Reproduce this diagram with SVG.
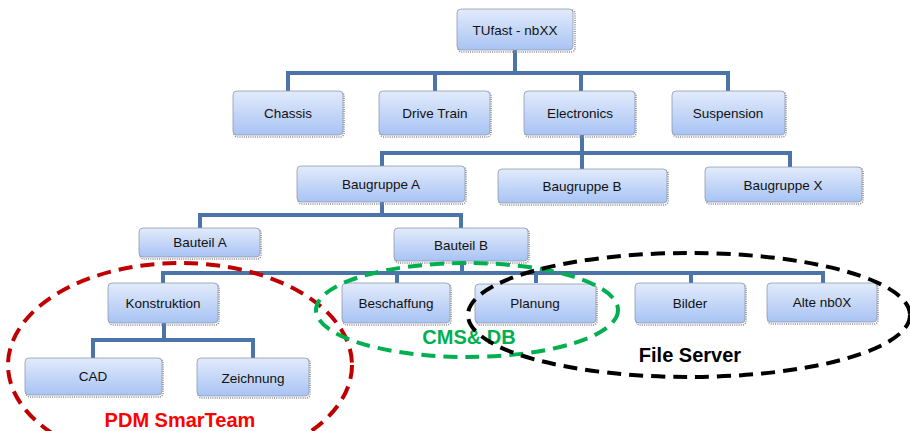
<svg xmlns="http://www.w3.org/2000/svg" width="910" height="431" viewBox="0 0 910 431">
<defs>
<linearGradient id="nodeFill" x1="0" y1="0" x2="0" y2="1">
<stop offset="0" stop-color="#e2ebfb"/>
<stop offset="1" stop-color="#a8c3f4"/>
</linearGradient>
<style>
.box{fill:url(#nodeFill);stroke:#8d9ab0;stroke-width:0.8}
.sh{fill:none;stroke:#8a8a8a;stroke-width:1.6;stroke-dasharray:1 1.2}
.lbl{font-family:"Liberation Sans",Arial,sans-serif;font-size:13.5px;fill:#111;text-anchor:middle;dominant-baseline:central}
.conn{fill:none;stroke:#4b75a9;stroke-width:4}
.ell{fill:none;stroke-width:4;stroke-dasharray:14 8}
.grp{font-family:"Liberation Sans",Arial,sans-serif;font-weight:bold;font-size:20px;text-anchor:middle}
</style>
</defs>
<rect width="910" height="431" fill="#fff"/>
<g id="connectors">
<path class="conn" d="M515 50V73M288 91V73H728V91M435 73V91M581 73V91"/>
<path class="conn" d="M582 135V153M382 166V153H790V167M582 153V169"/>
<path class="conn" d="M382 202V215M200 228V215H461V228"/>
<path class="conn" d="M462 261V273M163 283V273H823V283M397 273V283M536 273V283M691 273V283"/>
<path class="conn" d="M164 323V340M93 358V340H253V358"/>
</g>
<g id="n-tufast"><rect class="sh" x="458" y="10" width="117" height="42" rx="4"/><rect class="box" x="457" y="9" width="116" height="41" rx="4"/><text class="lbl" x="515" y="30">TUfast - nbXX</text></g>
<g id="n-chassis"><rect class="sh" x="234" y="92" width="110" height="45" rx="4"/><rect class="box" x="233" y="91" width="110" height="44" rx="4"/><text class="lbl" x="288" y="113">Chassis</text></g>
<g id="n-drivetrain"><rect class="sh" x="380" y="92" width="111" height="45" rx="4"/><rect class="box" x="379" y="91" width="111" height="44" rx="4"/><text class="lbl" x="435" y="113">Drive Train</text></g>
<g id="n-electronics"><rect class="sh" x="525" y="92" width="111" height="45" rx="4"/><rect class="box" x="524" y="91" width="111" height="44" rx="4"/><text class="lbl" x="580" y="113">Electronics</text></g>
<g id="n-suspension"><rect class="sh" x="673" y="92" width="113" height="45" rx="4"/><rect class="box" x="672" y="91" width="113" height="44" rx="4"/><text class="lbl" x="728" y="113">Suspension</text></g>
<g id="n-bga"><rect class="sh" x="298" y="167" width="168" height="37" rx="4"/><rect class="box" x="297" y="166" width="168" height="36" rx="4"/><text class="lbl" x="381" y="184">Baugruppe A</text></g>
<g id="n-bgb"><rect class="sh" x="499" y="170" width="169" height="35" rx="4"/><rect class="box" x="498" y="169" width="169" height="34" rx="4"/><text class="lbl" x="582" y="186">Baugruppe B</text></g>
<g id="n-bgx"><rect class="sh" x="706" y="168" width="157" height="36" rx="4"/><rect class="box" x="705" y="167" width="157" height="35" rx="4"/><text class="lbl" x="783" y="185">Baugruppe X</text></g>
<g id="n-bta"><rect class="sh" x="140" y="229" width="121" height="30" rx="4"/><rect class="box" x="139" y="228" width="121" height="29" rx="4"/><text class="lbl" x="200" y="242">Bauteil A</text></g>
<g id="n-btb"><rect class="sh" x="395" y="229" width="134" height="34" rx="4"/><rect class="box" x="394" y="228" width="134" height="33" rx="4"/><text class="lbl" x="461" y="245">Bauteil B</text></g>
<g id="n-konstruktion"><rect class="sh" x="109" y="284" width="110" height="41" rx="4"/><rect class="box" x="108" y="283" width="110" height="40" rx="4"/><text class="lbl" x="163" y="303">Konstruktion</text></g>
<g id="n-beschaffung"><rect class="sh" x="343" y="284" width="108" height="41" rx="4"/><rect class="box" x="342" y="283" width="108" height="40" rx="4"/><text class="lbl" x="396" y="303">Beschaffung</text></g>
<g id="n-planung"><rect class="sh" x="476" y="285" width="121" height="40" rx="4"/><rect class="box" x="475" y="284" width="121" height="39" rx="4"/><text class="lbl" x="535" y="303">Planung</text></g>
<g id="n-bilder"><rect class="sh" x="636" y="284" width="110" height="41" rx="4"/><rect class="box" x="635" y="283" width="110" height="40" rx="4"/><text class="lbl" x="690" y="303">Bilder</text></g>
<g id="n-alte"><rect class="sh" x="768" y="284" width="110" height="40" rx="4"/><rect class="box" x="767" y="283" width="110" height="39" rx="4"/><text class="lbl" x="822" y="302">Alte nb0X</text></g>
<g id="n-cad"><rect class="sh" x="26" y="359" width="137" height="38" rx="4"/><rect class="box" x="25" y="358" width="137" height="37" rx="4"/><text class="lbl" x="93" y="376">CAD</text></g>
<g id="n-zeichnung"><rect class="sh" x="198" y="359" width="112" height="39" rx="4"/><rect class="box" x="197" y="358" width="112" height="38" rx="4"/><text class="lbl" x="253" y="378">Zeichnung</text></g>
<g id="g-pdm">
<ellipse class="ell" cx="180" cy="365" rx="172" ry="102" stroke="#c00000"/>
<text class="grp" x="180" y="427" fill="#ff0000">PDM SmarTeam</text>
</g>
<g id="g-cms">
<ellipse class="ell" cx="467" cy="310" rx="151" ry="47" stroke="#00b050"/>
<text class="grp" x="469" y="344" fill="#00b050">CMS&amp; DB</text>
</g>
<g id="g-fs">
<ellipse class="ell" cx="689" cy="315" rx="221" ry="62" stroke="#000"/>
<text class="grp" x="690" y="362" fill="#000" font-size="19">File Server</text>
</g>
</svg>
